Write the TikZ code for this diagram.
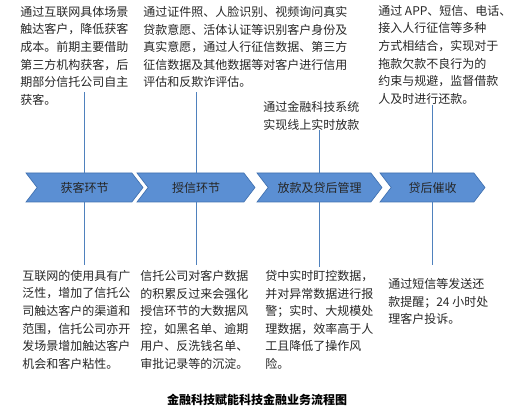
\documentclass[tikz,border=0pt]{standalone}
\usepackage{fontspec}
\setmainfont{Noto Sans CJK SC}
\usetikzlibrary{positioning,shapes.symbols}
\definecolor{stageblue}{RGB}{91,143,211}
\definecolor{stageedge}{RGB}{65,113,176}
\definecolor{linkblue}{RGB}{79,129,189}
\tikzset{
  stage/.style={signal, signal to=east, signal from=west, signal pointer angle=105,
    fill=stageblue, draw=stageedge, line width=0.5pt, minimum height=21.75pt,
    inner sep=0pt, font=\fontsize{9}{11}\selectfont, text=black!85},
  note/.style={anchor=north west, inner sep=0pt, align=left,
    font=\fontsize{9}{13.2}\selectfont, text=black!85},
  link/.style={draw=linkblue, line width=0.6pt}
}

\begin{document}
\begin{tikzpicture}[x=0.75pt,y=-0.75pt]
\useasboundingbox (0,0) rectangle (514,413);
% process stages
\node[stage, minimum width=87.75pt] (huoke) at (84.5,187.5) {获客环节};
\node[stage, minimum width=88.5pt] (shouxin) at (196,187.5) {授信环节};
\node[stage, minimum width=93.75pt] (fangkuan) at (319.5,187.5) {放款及贷后管理};
\node[stage, minimum width=78.75pt] (cuishou) at (432.5,187.5) {贷后催收};
% notes above
\node[note] (huokeTop) at (20,6) {通过互联网具体场景\\触达客户，降低获客\\成本。前期主要借助\\第三方机构获客，后\\期部分信托公司自主\\获客。};
\node[note] (shouxinTop) at (143,6) {通过证件照、人脸识别、视频询问真实\\贷款意愿、活体认证等识别客户身份及\\真实意愿，通过人行征信数据、第三方\\征信数据及其他数据等对客户进行信用\\评估和反欺诈评估。};
\node[note] (fangkuanTop) at (263,101) {通过金融科技系统\\实现线上实时放款};
\node[note] (cuishouTop) at (378,5) {通过 APP、短信、电话、\\接入人行征信等多种\\方式相结合，实现对于\\拖款欠款不良行为的\\约束与规避，监督借款\\人及时进行还款。};
% notes below
\node[note] (huokeBot) at (22,270) {互联网的使用具有广\\泛性，增加了信托公\\司触达客户的渠道和\\范围，信托公司亦开\\发场景增加触达客户\\机会和客户粘性。};
\node[note] (shouxinBot) at (140,270) {信托公司对客户数据\\的积累反过来会强化\\授信环节的大数据风\\控，如黑名单、逾期\\用户、反洗钱名单、\\审批记录等的沉淀。};
\node[note] (fangkuanBot) at (265,270) {贷中实时盯控数据，\\并对异常数据进行报\\警；实时、大规模处\\理数据，效率高于人\\工且降低了操作风\\险。};
\node[note] (cuishouBot) at (388,278) {通过短信等发送还\\款提醒；24 小时处\\理客户投诉。};
% links
\draw[link] (huoke.north) -- ++(0,-81);
\draw[link] (shouxin.north) -- ++(0,-81);
\draw[link] (fangkuan.north) -- (fangkuan.north |- fangkuanTop.south);
\draw[link] (cuishou.north) -- (cuishou.north |- cuishouTop.south);
\draw[link] (huoke.south) -- ++(0,63);
\draw[link] (shouxin.south) -- ++(0,63);
\draw[link] (fangkuan.south) -- ++(0,65);
\draw[link] (cuishou.south) -- ++(0,63);
% caption
\node[font=\fontsize{9}{11}\selectfont\bfseries] (caption) at (257,400) {金融科技赋能科技金融业务流程图};
\end{tikzpicture}
\end{document}
